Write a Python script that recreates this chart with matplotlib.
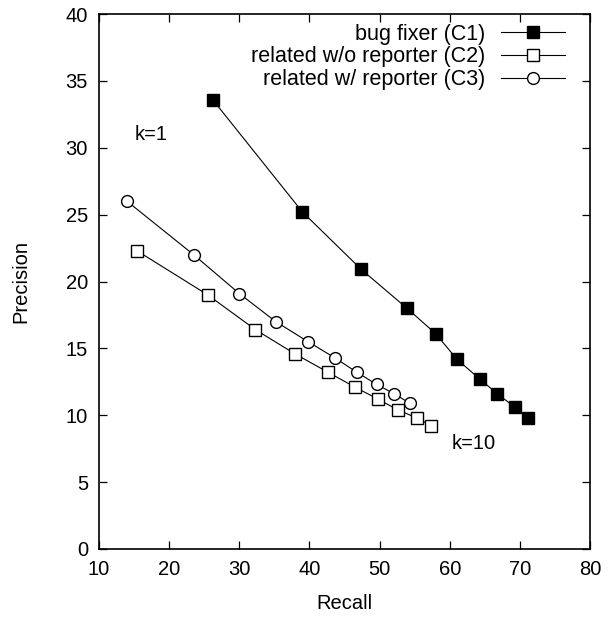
import matplotlib
matplotlib.use("Agg")
import matplotlib.pyplot as plt

plt.rcParams['font.family'] = ['Liberation Sans', 'DejaVu Sans']

c1_recall = [26.2, 39.0, 47.4, 53.9, 58.0, 61.0, 64.3, 66.8, 69.3, 71.1]
c1_precision = [33.6, 25.2, 20.9, 18.0, 16.1, 14.2, 12.7, 11.6, 10.6, 9.8]
c2_recall = [15.4, 25.5, 32.3, 37.9, 42.7, 46.5, 49.8, 52.6, 55.3, 57.4]
c2_precision = [22.3, 19.0, 16.4, 14.6, 13.2, 12.1, 11.2, 10.4, 9.8, 9.2]
c3_recall = [14.0, 23.5, 30.0, 35.2, 39.8, 43.6, 46.8, 49.6, 52.1, 54.3]
c3_precision = [26.0, 22.0, 19.1, 17.0, 15.5, 14.3, 13.2, 12.3, 11.6, 10.9]
labels = ["bug fixer (C1)", "related w/o reporter (C2)", "related w/ reporter (C3)"]
x_ticks = [10, 20, 30, 40, 50, 60, 70, 80]
y_ticks = [0, 5, 10, 15, 20, 25, 30, 35, 40]

fig = plt.figure(figsize=(6.15, 6.17), dpi=100)
ax = fig.add_axes([99/615, 1-549/617, (590-99)/615, (549-14)/617])

fs = 14.5
ax.plot(c1_recall, c1_precision, color='black', lw=0.8, marker='s', ms=9,
        mfc='black', mec='black', label=labels[0])
ax.plot(c2_recall, c2_precision, color='black', lw=0.8, marker='s', ms=9,
        mfc='white', mec='black', mew=1.0, label=labels[1])
ax.plot(c3_recall, c3_precision, color='black', lw=0.8, marker='o', ms=8.5,
        mfc='white', mec='black', mew=1.0, label=labels[2])

ax.set_xlim(10, 80)
ax.set_ylim(0, 40)
ax.set_xticks(x_ticks)
ax.set_yticks(y_ticks)
ax.tick_params(direction='in', top=True, right=True, length=6, width=0.9,
               labelsize=fs, pad=8)
for s in ax.spines.values():
    s.set_linewidth(1.2)
ax.set_xlabel("Recall", fontsize=fs, labelpad=11)
ax.set_ylabel("Precision", fontsize=fs, labelpad=25)

ax.text(17.4, 31.0, "k=1", fontsize=fs, ha='center', va='center')
ax.text(63.4, 7.9, "k=10", fontsize=fs, ha='center', va='center')

leg = ax.legend(loc='upper right', frameon=False, markerfirst=False,
                prop={'size': 15.5}, handlelength=3.0, handletextpad=0.7,
                labelspacing=0.08, borderaxespad=0.05,
                bbox_to_anchor=(1 - 15/491, 1.0))

fig.savefig("out.png", dpi=100)
